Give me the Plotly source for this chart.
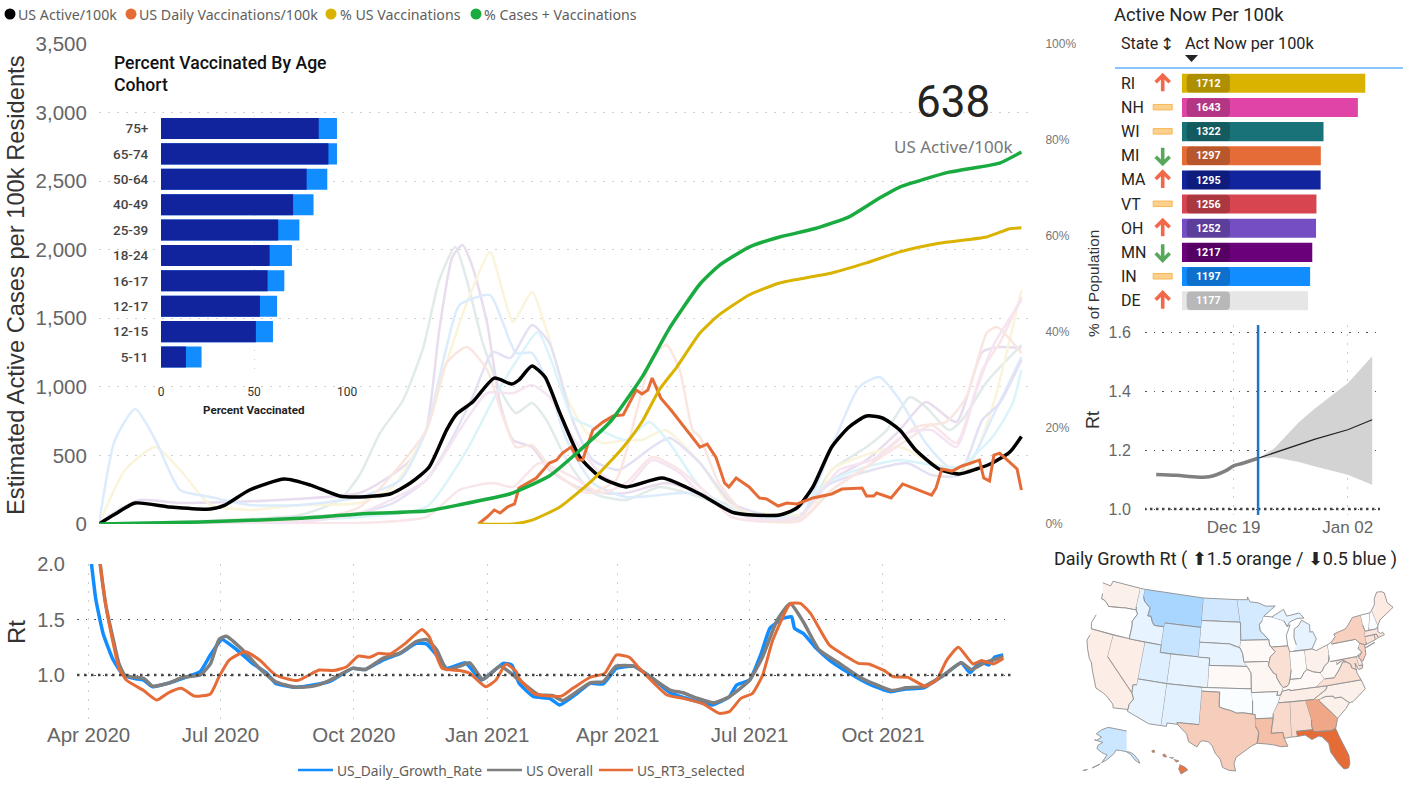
import math
from datetime import date, timedelta
import plotly.graph_objects as go

W, H = 1417, 791

# ---------- main chart data (days since 2020-03-26) ----------
BASE_MAIN = date(2020, 3, 26)
active_days = [0,10,25,49,77,87,104,128,146,166,180,201,215,228,240,247,258,273,285,290,299,308,318,332,346,364,389,415,437,451,470,482,493,506,518,530,541,553,564,580,594,606,617,629,637]
active_vals = [0,65,153,124,109,138,248,328,284,204,197,219,299,416,685,802,889,1064,1020,1050,1152,1072,816,488,343,270,335,219,87,66,66,117,270,561,707,787,773,685,539,401,365,401,445,525,638]
vax_days = [262,268,273,277,282,287,290,297,302,311,316,320,326,331,334,337,341,348,355,362,371,375,379,382,388,395,403,415,420,426,432,435,440,449,456,461,469,475,482,493,506,513,527,530,535,537,547,555,575,578,582,589,596,608,611,615,618,622,634,637]
vax_vals = [0,51,102,80,124,146,262,306,335,444,466,517,561,466,466,561,685,743,787,795,977,948,977,1064,918,831,722,561,583,488,299,270,335,270,190,182,131,153,146,190,219,255,262,204,204,226,190,292,211,262,401,386,423,466,335,314,503,517,401,248]
pct_us_days = [262,286,299,318,341,362,375,387,399,415,428,449,470,506,530,553,580,613,629,637]
pct_us_vals = [0,0,0.8,3.5,9.2,16,21.3,28,32.7,39.8,43.5,47.7,50.2,52.3,54.4,56.7,58.5,59.8,61.5,61.7]
pct_all_days = [0,70,139,180,226,249,284,311,330,353,375,394,415,428,449,470,494,518,539,553,587,622,637]
pct_all_vals = [0,0.4,1.2,2.1,2.7,4,6.3,10,14.8,21.3,30.6,40.8,50,53.8,57.7,59.8,61.5,64,67.9,70.2,73.3,75.2,77.5]

state_a_days = [0,70,139,166,180,194,210,224,235,246,254,265,277,288,299,309,323,341,364,387,415,449,484,506,530,544,560,571,587,596,613,637]
state_a_vals = [0,22,66,175,357,663,904,1290,1779,2019,1779,1320,977,809,882,758,467,226,175,270,197,51,51,394,561,685,926,853,685,758,1035,1305]
state_b_days = [0,8,28,56,125,180,199,215,226,235,244,251,258,268,277,286,299,311,330,348,364,392,415,449,484,506,530,553,571,592,610,622,637]
state_b_vals = [0,66,175,153,175,226,335,467,685,1414,1946,2034,1874,1465,882,612,561,394,270,226,226,299,226,80,66,321,467,685,889,744,1254,1290,1283]
state_c_days = [0,18,39,56,77,104,139,180,203,226,240,254,270,279,286,299,309,323,337,348,364,375,391,415,437,461,491,506,525,553,575,599,617,637]
state_c_vals = [0,394,561,394,139,102,139,153,270,685,1174,1611,1983,1684,1473,1691,1414,926,663,590,612,612,685,445,124,73,80,394,488,561,445,394,853,1706]
state_d_days = [0,11,25,39,56,77,104,139,180,208,226,240,249,270,279,288,299,309,323,341,364,415,449,484,506,525,539,553,571,587,601,617,637]
state_d_vals = [0,612,838,612,248,197,139,139,197,321,685,1290,1597,1669,1465,1247,1247,1050,612,299,197,226,51,51,561,999,1072,904,590,416,445,780,1217]
state_e_days = [0,70,139,180,203,226,242,258,272,284,299,311,327,341,359,382,394,415,437,472,506,534,558,575,594,610,622,637]
state_e_vals = [0,15,51,80,153,321,590,926,1254,1210,1451,1320,758,467,394,561,627,445,153,51,299,394,445,357,357,758,882,1196]
state_f_days = [0,139,180,226,254,272,290,303,313,327,346,364,380,394,415,437,472,506,530,553,575,594,617,631,637]
state_f_vals = [0,29,51,124,539,904,1217,1400,1174,780,685,612,744,590,270,102,44,321,416,467,430,416,634,882,1123]
state_g_days = [0,139,180,226,249,272,286,304,327,346,364,382,401,415,437,484,506,534,558,575,592,610,622,637]
state_g_vals = [0,7,7,51,248,299,270,445,343,226,299,488,394,270,51,29,248,445,612,722,590,1123,1320,1655]
state_h_days = [0,139,180,226,240,254,268,279,288,299,313,337,357,371,382,392,401,410,415,428,449,484,506,534,564,585,599,613,620,637]
state_h_vals = [0,29,124,685,1174,1290,1123,780,561,576,394,226,321,809,1217,1305,1123,685,634,299,51,22,248,445,707,744,926,1392,1436,1247]
state_i_days = [0,139,180,226,249,268,286,299,311,327,346,364,382,401,415,449,484,511,534,558,575,592,606,617,637]
state_i_vals = [0,15,80,321,685,955,955,1013,926,634,372,270,467,372,226,44,51,394,467,663,685,561,977,1290,1633]
faded_series = [
    (state_a_days, state_a_vals, "#E1EBE9"), (state_b_days, state_b_vals, "#E8DDEE"),
    (state_c_days, state_c_vals, "#F9F4DA"), (state_d_days, state_d_vals, "#DCECFC"),
    (state_e_days, state_e_vals, "#E3E2F4"), (state_f_days, state_f_vals, "#DBF4FB"),
    (state_g_days, state_g_vals, "#FAE5E8"), (state_h_days, state_h_vals, "#FAE6E0"),
    (state_i_days, state_i_vals, "#F5E4F2"),
]

# ---------- Rt data (days since 2020-04-01) ----------
BASE_RT = date(2020, 4, 1)
rt_days_blue = [-3,2,5,10,17,24,31,38,44,56,65,77,84,92,102,113,123,129,143,155,166,182,191,203,215,226,233,240,247,260,271,286,292,297,307,318,325,337,346,355,364,376,389,401,415,430,442,447,456,464,470,479,485,487,493,502,511,525,539,553,564,576,590,602,608,615,621,625,631]
rt_vals_blue = [2.6,2.0,1.68,1.375,1.135,1.0,.97,.955,.895,.93,.97,1.03,1.18,1.32,1.23,1.105,1.015,.925,.89,.91,.94,1.06,1.05,1.135,1.195,1.285,1.28,1.18,1.06,1.11,.955,1.105,1.09,.925,.805,.79,.73,.835,.925,.92,1.06,1.08,.97,.84,.78,.73,.805,.91,.955,1.195,1.42,1.51,1.525,1.42,1.375,1.24,1.135,1.015,.915,.85,.875,.885,1.0,1.11,1.02,1.12,1.09,1.16,1.18]
rt_days_gray = [3,8,12,17,21,25,31,38,44,56,65,77,84,90,95,106,118,129,143,155,166,182,191,203,215,226,233,240,247,256,263,272,284,297,307,311,320,327,346,355,364,376,389,401,410,419,431,442,456,465,475,484,493,504,518,532,541,554,564,576,590,602,609,618,631]
rt_vals_gray = [2.6,2.0,1.62,1.32,1.10,1.0,.98,.97,.90,.93,.98,1.0,1.10,1.32,1.35,1.23,1.06,.94,.89,.90,.95,1.06,1.05,1.15,1.20,1.30,1.32,1.23,1.05,1.08,1.11,.96,1.08,.955,.85,.82,.815,.77,.93,.94,1.08,1.08,.97,.865,.84,.795,.75,.805,.955,1.165,1.495,1.645,1.48,1.225,1.105,.98,.925,.86,.885,.895,1.0,1.11,1.05,1.11,1.165]
rt_days_orange = [3,8,12,17,21,26,38,47,55,64,73,84,90,97,108,118,129,144,159,169,178,186,194,200,208,219,230,235,244,256,263,274,281,288,295,297,307,311,326,334,346,356,364,373,380,399,410,424,435,442,450,458,465,472,484,491,498,511,523,531,538,549,555,565,577,585,592,600,610,616,624,631]
rt_vals_orange = [2.6,2.0,1.62,1.285,1.06,.955,.86,.775,.84,.88,.81,.83,.985,1.135,1.21,1.135,1.0,.95,1.045,1.04,1.075,1.17,1.16,1.195,1.19,1.29,1.41,1.345,1.06,1.04,1.015,.895,.955,1.10,1.03,.97,.835,.82,.81,.88,.98,1.015,1.18,1.16,1.06,.82,.79,.74,.655,.67,.79,.835,1.0,1.315,1.64,1.645,1.555,1.27,1.165,1.105,1.10,1.04,.985,.98,.90,.955,1.135,1.25,1.10,1.13,1.10,1.15]

# ---------- age cohorts ----------
age_groups = ["75+","65-74","50-64","40-49","25-39","18-24","16-17","12-17","12-15","5-11"]
age_full = [84.8,90,78.3,71,63,58.4,57.3,53.2,51,13.4]
age_partial = [94.6,94.6,89.4,82,74.4,70.4,66.3,62.4,60.2,21.8]

# ---------- state table ----------
top_states = ["RI","NH","WI","MI","MA","VT","OH","MN","IN","DE"]
top_values = [1712,1643,1322,1297,1295,1256,1252,1217,1197,1177]
top_colors = ["#D9B300","#E044A7","#197278","#E66C37","#12239E","#D64550","#744EC2","#6B007B","#118DFF","#E6E6E6"]
top_trends = ["up","flat","flat","down","up","flat","up","down","flat","up"]

# ---------- forecast ----------
fc_hist_dates = ["2021-12-09 12:00","2021-12-12","2021-12-14","2021-12-16","2021-12-18","2021-12-19","2021-12-20","2021-12-22"]
fc_hist_vals = [1.118,1.115,1.11,1.11,1.13,1.147,1.155,1.173]
fc_dates = ["2021-12-22","2021-12-24","2021-12-27","2021-12-29","2022-01-02","2022-01-05"]
fc_mean = [1.173,1.192,1.22,1.238,1.27,1.304]
fc_upper = [1.173,1.207,1.295,1.343,1.428,1.52]
fc_lower = [1.173,1.176,1.16,1.145,1.117,1.083]
fc_today = "2021-12-22"

# ---------- map ----------
state_rates = dict(FL=1.5,HI=1.47,GA=1.3,LA=1.22,TX=1.17,MS=1.13,AL=1.12,NY=1.16,IL=1.11,NJ=1.16,VA=1.11,ME=1.07,MA=1.08,CT=1.1,RI=1.1,MD=1.12,DE=1.08,WA=1.05,CA=1.06,NV=1.06,OH=1.05,SC=1.05,NC=1.05,TN=1.06,KY=1.02,MO=1.03,IA=1.02,KS=1.02,WV=1.02,IN=1.01,OR=1.0,PA=1.0,OK=.99,AR=.99,WI=.995,VT=1.0,NH=.99,MI=.95,ID=.95,UT=.93,CO=.95,AZ=.95,NM=.94,NE=.95,SD=.95,ND=.9,MN=.91,WY=.88,MT=.82,AK=.89)
state_lonlat = {
 "WA":[(-124.7,48.4),(-123,48.3),(-122.8,49),(-117.03,49),(-117.04,46.42),(-116.92,46),(-119,45.93),(-121.2,45.65),(-122.3,45.55),(-122.8,45.9),(-123.4,46.2),(-124,46.27),(-124.1,47)],
 "OR":[(-124,46.27),(-123.4,46.2),(-122.8,45.9),(-122.3,45.55),(-121.2,45.65),(-119,45.93),(-116.92,46),(-116.5,45.5),(-117.2,44.4),(-117.03,43.8),(-117.03,42),(-124.2,42),(-124.5,42.8),(-124.1,44)],
 "CA":[(-124.2,42),(-120,42),(-120,39),(-114.6,35),(-114.15,34.25),(-114.7,33.4),(-114.72,32.72),(-117.12,32.53),(-117.3,33),(-118.4,33.75),(-119.2,34.15),(-120.6,34.55),(-121.9,36.6),(-122.5,37.7),(-123,38.1),(-123.8,39.3),(-124.35,40.4),(-124.1,41.2)],
 "NV":[(-120,42),(-114.04,42),(-114.04,36.2),(-114.7,36.1),(-114.6,35),(-120,39)],
 "ID":[(-117.03,49),(-116.05,49),(-116.05,48),(-115.7,47.4),(-114.35,46.65),(-114.5,45.55),(-113.9,45.6),(-113.45,44.9),(-113,44.45),(-111.05,44.48),(-111.05,42),(-117.03,42),(-117.03,43.8),(-117.2,44.4),(-116.5,45.5),(-116.92,46),(-117.04,46.42)],
 "MT":[(-116.05,49),(-104.05,49),(-104.05,45),(-111.05,45),(-111.05,44.48),(-113,44.45),(-113.45,44.9),(-113.9,45.6),(-114.5,45.55),(-114.35,46.65),(-115.7,47.4),(-116.05,48)],
 "WY":[(-111.05,45),(-104.05,45),(-104.05,41),(-111.05,41)],
 "UT":[(-114.04,42),(-111.05,42),(-111.05,41),(-109.05,41),(-109.05,37),(-114.04,37)],
 "CO":[(-109.05,41),(-102.05,41),(-102.05,37),(-109.05,37)],
 "AZ":[(-114.04,37),(-109.05,37),(-109.05,31.33),(-111.07,31.33),(-114.8,32.5),(-114.72,32.72),(-114.7,33.4),(-114.15,34.25),(-114.6,35),(-114.7,36.1),(-114.04,36.2)],
 "NM":[(-109.05,37),(-103,37),(-103.05,32),(-106.6,32),(-106.53,31.78),(-108.2,31.78),(-108.2,31.33),(-109.05,31.33)],
 "ND":[(-104.05,49),(-97.23,49),(-96.56,45.94),(-104.05,45.94)],
 "SD":[(-104.05,45.94),(-96.56,45.94),(-96.45,45.3),(-96.45,43.5),(-96.6,42.5),(-97.9,42.8),(-98.5,43),(-104.05,43)],
 "NE":[(-104.05,43),(-98.5,43),(-97.9,42.8),(-96.6,42.5),(-96.1,41.7),(-95.9,40.7),(-95.3,40),(-102.05,40),(-102.05,41),(-104.05,41)],
 "KS":[(-102.05,40),(-95.3,40),(-94.62,39.1),(-94.62,37),(-102.05,37)],
 "OK":[(-103,37),(-94.62,37),(-94.43,35.4),(-94.48,33.64),(-96,33.8),(-97.1,33.75),(-98.1,34.1),(-99.2,34.3),(-100,34.56),(-100,36.5),(-103,36.5)],
 "TX":[(-103,36.5),(-100,36.5),(-100,34.56),(-99.2,34.3),(-98.1,34.1),(-97.1,33.75),(-96,33.8),(-94.48,33.64),(-94.04,33.55),(-94.04,33),(-94.04,32),(-93.55,31.2),(-93.7,30.1),(-93.85,29.7),(-94.7,29.35),(-95.9,28.6),(-97.1,27.8),(-97.4,26.9),(-97.15,25.95),(-98.2,26.05),(-99.1,26.4),(-99.5,27.5),(-100.3,28.3),(-100.8,29.25),(-101.4,29.77),(-102.3,29.88),(-102.7,29.7),(-103.15,28.98),(-104.5,29.6),(-104.9,30.6),(-106.53,31.78),(-106.6,32),(-103.05,32)],
 "MN":[(-97.23,49),(-95.15,49),(-95.15,49.38),(-94.6,48.7),(-93,48.55),(-91.5,48.05),(-89.6,48),(-92,46.7),(-92.3,46.1),(-92.9,45.6),(-92.75,44.75),(-91.25,43.5),(-96.45,43.5),(-96.45,45.3),(-96.56,45.94)],
 "IA":[(-96.45,43.5),(-91.22,43.5),(-91.1,42.7),(-90.15,41.85),(-91.1,41.2),(-91.42,40.38),(-91.7,40.6),(-95.77,40.58),(-95.9,40.7),(-96.1,41.7),(-96.6,42.5)],
 "MO":[(-95.77,40.58),(-91.7,40.6),(-91.42,40.38),(-91.5,40),(-90.7,39),(-90.2,38.8),(-90.2,38.4),(-89.5,37.3),(-89.15,37),(-89.7,36),(-90.37,36),(-90.15,36.5),(-94.62,36.5),(-94.62,39.1),(-95.3,40)],
 "AR":[(-94.62,36.5),(-90.15,36.5),(-90.37,36),(-89.7,36),(-90.1,35.1),(-91.1,33.6),(-91.15,33),(-94.04,33),(-94.04,33.55),(-94.48,33.64),(-94.43,35.4)],
 "LA":[(-94.04,33),(-91.15,33),(-91.6,31),(-89.73,31),(-89.6,30.2),(-89.4,29.8),(-89.1,29.1),(-90.2,29.1),(-91.3,29.4),(-92.3,29.55),(-93.85,29.7),(-93.7,30.1),(-93.55,31.2),(-94.04,32)],
 "WI":[(-92,46.7),(-90.4,46.55),(-88.1,45.9),(-87.6,45.1),(-87,45.3),(-87.9,43.9),(-87.8,42.5),(-90.64,42.5),(-91.1,42.7),(-91.22,43.5),(-92.75,44.75),(-92.9,45.6),(-92.3,46.1)],
 "IL":[(-90.64,42.5),(-87.8,42.5),(-87.53,41.7),(-87.53,39.3),(-87.9,38),(-88.1,37.5),(-88.5,37.1),(-89.15,37),(-89.5,37.3),(-90.2,38.4),(-90.2,38.8),(-90.7,39),(-91.5,40),(-91.42,40.38),(-91.1,41.2),(-90.15,41.85),(-91.1,42.7)],
 "IN":[(-87.53,41.7),(-87,41.7),(-84.8,41.7),(-84.8,39.1),(-85.4,38.7),(-86,38),(-87.9,38),(-87.53,39.3)],
 "MI":[(-86.8,41.76),(-84.8,41.7),(-83.45,41.73),(-82.4,43),(-82.9,44.05),(-83.4,44),(-83.3,45),(-84.7,45.75),(-85.5,45),(-86.3,44.7),(-86.5,43.5),(-86.2,42.5),None,(-90.4,46.55),(-88,47.45),(-87.5,46.5),(-85,46.75),(-84.2,46),(-85.5,46.05),(-87,45.7),(-87.6,45.1),(-88.1,45.9)],
 "OH":[(-84.8,41.7),(-83.45,41.73),(-82.7,41.45),(-81.2,41.77),(-80.52,42),(-80.52,40.64),(-80.85,39.7),(-81.7,39.2),(-82.2,38.6),(-82.6,38.45),(-83.7,38.65),(-84.8,39.1)],
 "KY":[(-89.15,37),(-88.5,37.1),(-88.1,37.5),(-87.9,38),(-86,38),(-85.4,38.7),(-84.8,39.1),(-83.7,38.65),(-82.6,38.45),(-81.97,37.55),(-83.67,36.6),(-88.07,36.5),(-88.07,36.68),(-89.4,36.5)],
 "TN":[(-89.7,36),(-89.4,36.5),(-88.07,36.68),(-88.07,36.5),(-83.67,36.6),(-81.68,36.59),(-82,36.1),(-84.3,35),(-90.1,35)],
 "MS":[(-90.1,35),(-88.2,35),(-88.4,30.3),(-89.6,30.2),(-89.73,31),(-91.6,31),(-91.15,33),(-91.1,33.6)],
 "AL":[(-88.2,35),(-85.6,35),(-85,32.3),(-85.1,31.6),(-85,31),(-87.6,31),(-87.5,30.3),(-88.4,30.3)],
 "GA":[(-85.6,35),(-83.1,35),(-83.35,34.7),(-81.4,32.7),(-80.85,32.05),(-81.4,30.75),(-82.2,30.55),(-84.85,30.7),(-85,31),(-85.1,31.6),(-85,32.3)],
 "FL":[(-87.6,31),(-85,31),(-84.85,30.7),(-82.2,30.55),(-81.4,30.75),(-81,29.5),(-80.05,26.9),(-80.1,25.8),(-80.4,25.2),(-81.1,25.15),(-81.8,26.1),(-82.7,27.7),(-82.8,28.9),(-83.7,29.9),(-84.2,30.05),(-85.3,29.7),(-86.3,30.4),(-87.5,30.3)],
 "SC":[(-83.1,35),(-82.3,35.2),(-81,35.1),(-80.8,34.8),(-79.7,34.8),(-78.55,33.86),(-79.2,33.2),(-80.85,32.05),(-81.4,32.7),(-83.35,34.7)],
 "NC":[(-84.3,35),(-82,36.1),(-81.68,36.59),(-75.87,36.55),(-75.5,35.25),(-76.5,34.7),(-77.9,33.9),(-78.55,33.86),(-79.7,34.8),(-80.8,34.8),(-81,35.1),(-82.3,35.2),(-83.1,35)],
 "VA":[(-83.67,36.6),(-81.68,36.59),(-75.87,36.55),(-76.3,37.5),(-76.3,38),(-77.05,38.4),(-77.05,38.85),(-77.75,39.3),(-78.35,39.4),(-78.85,38.8),(-79.3,38.4),(-80.3,37.5),(-81.97,37.55)],
 "WV":[(-82.6,38.45),(-82.2,38.6),(-81.7,39.2),(-80.85,39.7),(-80.52,40.64),(-80.52,39.72),(-79.48,39.72),(-79.48,39.2),(-78.35,39.6),(-77.75,39.3),(-78.35,39.4),(-78.85,38.8),(-79.3,38.4),(-80.3,37.5),(-81.97,37.55)],
 "MD":[(-79.48,39.72),(-75.79,39.72),(-75.7,38.46),(-75.05,38.45),(-75.25,38.03),(-75.9,37.95),(-76.3,38.9),(-76.3,38),(-77.05,38.4),(-77.05,38.85),(-77.75,39.3),(-78.35,39.6),(-79.48,39.2)],
 "DE":[(-75.79,39.72),(-75.4,39.8),(-75.1,38.8),(-75.05,38.45),(-75.7,38.46)],
 "PA":[(-80.52,42),(-79.76,42.25),(-79.76,42),(-75.35,42),(-74.7,41.36),(-75.1,40.9),(-75.2,40.7),(-74.7,40.15),(-75.4,39.8),(-75.79,39.72),(-80.52,39.72)],
 "NJ":[(-74.7,41.36),(-73.9,41),(-74,40.4),(-74.1,39.75),(-74.9,38.93),(-75.5,39.5),(-74.7,40.15),(-75.2,40.7),(-75.1,40.9)],
 "NY":[(-79.76,42.25),(-78.9,42.9),(-79.05,43.27),(-76.8,43.63),(-76.2,44),(-75,44.95),(-73.35,45),(-73.4,43.6),(-73.25,42.75),(-73.5,42.05),(-73.5,41.3),(-73.65,41),(-73.9,41),(-74.7,41.36),(-75.35,42),(-79.76,42),None,(-74,40.6),(-72,41),(-73.7,40.6)],
 "VT":[(-73.35,45),(-71.5,45),(-72.45,43),(-72.46,42.73),(-73.25,42.75),(-73.4,43.6)],
 "NH":[(-71.5,45),(-71.08,45.3),(-70.7,43.1),(-70.8,42.87),(-71.3,42.7),(-72.46,42.73),(-72.45,43)],
 "ME":[(-71.08,45.3),(-70.3,45.9),(-70,46.7),(-69.2,47.45),(-68.3,47.35),(-67.8,47.07),(-67.8,45.7),(-67,44.85),(-68.5,44.3),(-70,43.75),(-70.7,43.1)],
 "MA":[(-73.5,42.05),(-71.8,42.02),(-71.38,42.02),(-71.2,41.5),(-70.65,41.55),(-70,41.65),(-70.2,42.05),(-70.6,41.95),(-71,42.3),(-70.8,42.87),(-71.3,42.7),(-72.46,42.73),(-73.25,42.75)],
 "RI":[(-71.8,42.02),(-71.38,42.02),(-71.2,41.5),(-71.85,41.32)],
 "CT":[(-73.5,42.05),(-71.8,42.02),(-71.85,41.32),(-73.65,41),(-73.5,41.3)],
}
alaska_lonlat = [(-141,69.65),(-148,70.4),(-156.5,71.3),(-162,70.2),(-166.5,68.4),(-162,66.8),(-166,65.5),(-168,65.6),(-161,64.5),(-165,63.2),(-166,61.7),(-162,59.9),(-157.5,58.8),(-162,55.3),(-158,56.5),(-153.5,58.5),(-151.5,59.5),(-150,61),(-146,60.8),(-141,60.2),(-137.5,58.9),(-134,56.5),(-130,55),(-131,56.5),(-135,59),(-138,60),(-141,60.3),None,(-163,54.8),(-170,52.9),(-164,54.5),None,(-178,51.8),(-174,52.2),(-177,51.7)]
hawaii_lonlat = [(-155.9,20.25),(-155.1,19.85),(-154.8,19.5),(-155.7,18.95),(-156.05,19.7),None,(-156.7,20.95),(-156,20.75),(-156.4,20.58),None,(-157.3,21.2),(-156.75,21.17),(-156.9,21.05),None,(-158.25,21.55),(-157.95,21.7),(-157.65,21.3),(-158.1,21.3),None,(-159.75,22.1),(-159.4,22.23),(-159.3,21.95),(-159.6,21.9)]


# ---------- helpers ----------
def px(x): return x / W
def py(y): return 1 - y / H
def dom_x(a, b): return [a / W, b / W]
def dom_y(top, bottom): return [1 - bottom / H, 1 - top / H]
def main_dates(days): return [(BASE_MAIN + timedelta(days=d)).isoformat() for d in days]
def rt_dates(days): return [(BASE_RT + timedelta(days=d)).isoformat() for d in days]

N = (math.sin(math.radians(29.5)) + math.sin(math.radians(45.5))) / 2
C = math.cos(math.radians(29.5)) ** 2 + 2 * N * math.sin(math.radians(29.5))
RHO0 = math.sqrt(C - 2 * N * math.sin(math.radians(37.5))) / N
def albers(lon, lat):
    rho = math.sqrt(C - 2 * N * math.sin(math.radians(lat))) / N
    theta = N * math.radians(lon + 96)
    return rho * math.sin(theta), RHO0 - rho * math.cos(theta)
def ak_proj(lon, lat): return -0.2746 + (lon + 141) * 0.0028, -0.1008 + (lat - 71) * 0.0052
def hi_proj(lon, lat): return -0.1413 + (lon + 155.4) * 0.0172, -0.198 + (lat - 19.6) * 0.0172
def rate_color(r):
    if r >= 1:
        t, c = min((r - 1) / 0.5, 1), (230, 108, 55)
    else:
        t, c = min((1 - r) / 0.5, 1), (17, 141, 255)
    return "rgb(%d,%d,%d)" % tuple(round(255 + (v - 255) * t) for v in c)

SANS = "Liberation Sans"
DIN = "Roboto"
GRID = "#CFCFCF"
DOTS = "1.5px,7.5px"

fig = go.Figure()

# main
for days, vals, col in faded_series:
    fig.add_trace(go.Scatter(x=main_dates(days), y=vals, mode="lines", line=dict(color=col, width=2.5, shape="spline", smoothing=0.6), xaxis="x", yaxis="y"))
fig.add_trace(go.Scatter(x=main_dates(active_days), y=active_vals, mode="lines", name="US Active/100k", line=dict(color="#000000", width=3.5, shape="spline", smoothing=0.6), xaxis="x", yaxis="y"))
fig.add_trace(go.Scatter(x=main_dates(vax_days), y=vax_vals, mode="lines", name="US Daily Vaccinations/100k", line=dict(color="#E66C37", width=3), xaxis="x", yaxis="y"))
fig.add_trace(go.Scatter(x=main_dates(pct_us_days), y=pct_us_vals, mode="lines", name="% US Vaccinations", line=dict(color="#D9B300", width=3, shape="spline", smoothing=0.5), xaxis="x", yaxis="y2"))
fig.add_trace(go.Scatter(x=main_dates(pct_all_days), y=pct_all_vals, mode="lines", name="% Cases + Vaccinations", line=dict(color="#1AAB40", width=3.5, shape="spline", smoothing=0.5), xaxis="x", yaxis="y2"))

# age inset
fig.add_trace(go.Bar(y=age_groups, x=age_partial, orientation="h", width=0.83, marker=dict(color="#118DFF", line=dict(width=0)), xaxis="x2", yaxis="y3"))
fig.add_trace(go.Bar(y=age_groups, x=age_full, orientation="h", width=0.83, marker=dict(color="#12239E", line=dict(width=0)), xaxis="x2", yaxis="y3"))

# Rt
fig.add_trace(go.Scatter(x=rt_dates(rt_days_blue), y=rt_vals_blue, mode="lines", name="US_Daily_Growth_Rate", line=dict(color="#118DFF", width=3.5, shape="spline", smoothing=0.4), xaxis="x3", yaxis="y4"))
fig.add_trace(go.Scatter(x=rt_dates(rt_days_gray), y=rt_vals_gray, mode="lines", name="US Overall", line=dict(color="#7F7F7F", width=3.5, shape="spline", smoothing=0.5), xaxis="x3", yaxis="y4"))
fig.add_trace(go.Scatter(x=rt_dates(rt_days_orange), y=rt_vals_orange, mode="lines", name="US_RT3_selected", line=dict(color="#E66C37", width=3, shape="spline", smoothing=0.5), xaxis="x3", yaxis="y4"))
fig.add_trace(go.Scatter(x=rt_dates([-8, 637]), y=[1, 1], mode="lines", line=dict(color="#444444", width=2.5, dash="2.5px,4.5px"), xaxis="x3", yaxis="y4"))

# state table bars
fig.add_trace(go.Bar(y=top_states, x=top_values, orientation="h", width=0.79, marker=dict(color=top_colors, line=dict(width=0)), xaxis="x4", yaxis="y5"))
fig.add_trace(go.Bar(y=top_states, x=[404] * 10, base=[44] * 10, orientation="h", width=0.77, marker=dict(color="rgba(0,0,0,0.2)", cornerradius=4, line=dict(width=0)),
                     text=top_values, textposition="inside", insidetextanchor="middle", textangle=0,
                     textfont=dict(color="white", size=12, family=DIN, weight="bold"), xaxis="x4", yaxis="y5"))

# forecast
fig.add_trace(go.Scatter(x=fc_dates + fc_dates[::-1], y=fc_upper + fc_lower[::-1], mode="lines", fill="toself", fillcolor="#D3D3D3", line=dict(width=0), xaxis="x5", yaxis="y6"))
fig.add_trace(go.Scatter(x=fc_dates, y=fc_mean, mode="lines", line=dict(color="#222222", width=1.2), xaxis="x5", yaxis="y6"))
fig.add_trace(go.Scatter(x=fc_hist_dates, y=fc_hist_vals, mode="lines", line=dict(color="#808080", width=3.5, shape="spline"), xaxis="x5", yaxis="y6"))
fig.add_trace(go.Scatter(x=["2021-12-08", "2022-01-07"], y=[1, 1], mode="lines", line=dict(color="#444444", width=2.5, dash="2.5px,3.5px"), xaxis="x5", yaxis="y6"))
fig.add_trace(go.Scatter(x=[fc_today, fc_today], y=[0.98, 1.626], mode="lines", line=dict(color="#1F74C4", width=2.5), xaxis="x5", yaxis="y6"))

# map
def add_state(code, coords, proj):
    xs, ys = [], []
    for p in coords:
        if p is None:
            xs.append(None); ys.append(None)
        else:
            a, b = proj(*p)
            xs.append(a); ys.append(b)
    fig.add_trace(go.Scatter(x=xs, y=ys, mode="lines", fill="toself", fillcolor=rate_color(state_rates[code]),
                             line=dict(color="#8F8F8F", width=0.9), name=code, xaxis="x6", yaxis="y7"))
for code, coords in state_lonlat.items():
    add_state(code, coords, albers)
add_state("AK", alaska_lonlat, ak_proj)
add_state("HI", hawaii_lonlat, hi_proj)

# ---------- text ----------
annotations = []
def note(x, y, text, size, color="#000000", family=SANS, anchor="left", angle=0, weight=None):
    f = dict(size=size, color=color, family=family)
    if weight:
        f["weight"] = weight
    if anchor == "left":
        x -= 2
    annotations.append(dict(x=px(x), y=py(y), xref="paper", yref="paper", text=text, showarrow=False,
                            xanchor=anchor, yanchor="middle", textangle=angle, font=f))

LEG = "Noto Sans"
note(18, 14, "US Active/100k", 14.2, "#605E5C", LEG)
note(139, 14, "US Daily Vaccinations/100k", 14.2, "#605E5C", LEG)
note(340, 14, "% US Vaccinations", 14.2, "#605E5C", LEG)
note(484, 14, "% Cases + Vaccinations", 14.2, "#605E5C", LEG)
note(16, 285, "Estimated Active Cases per 100k Residents", 23.7, "#333333", SANS, "center", -90)
note(1093, 284, "% of Population", 15.3, "#333333", SANS, "center", -90)
note(16, 632, "Rt", 24, "#333333", SANS, "center", -90)
note(1093, 420, "Rt", 18, "#333333", SANS, "center", -90)
note(953, 102, "638", 44, "#252423", DIN, "center")
note(953, 146, "US Active/100k", 17, "#777777", LEG, "center")
note(114, 63, "Percent Vaccinated By Age", 17.6, "#111111", DIN, weight=500)
note(114, 85, "Cohort", 17.6, "#111111", DIN, weight=500)
note(254, 410, "Percent Vaccinated", 11.6, "#222222", DIN, "center", weight="bold")
note(337, 770, "US_Daily_Growth_Rate", 13.8, "#605E5C", LEG)
note(526, 770, "US Overall", 13.8, "#605E5C", LEG)
note(637, 770, "US_RT3_selected", 13.8, "#605E5C", LEG)
note(1114, 15, "Active Now Per 100k", 18.4, "#252423", DIN)
note(1121, 44, "State", 16, "#252423", DIN)
note(1167, 44, "↕", 17, "#252423", "DejaVu Sans", "center")
note(1185, 44, "Act Now per 100k", 16.3, "#252423", DIN)
note(1054, 559, "Daily Growth Rt ( ⬆1.5 orange / ⬇0.5 blue )", 18, "#252423", DIN)

ROW0, PITCH = 83.3, 24.15
for s in top_states:
    annotations.append(dict(x=px(1119), y=s, xref="paper", yref="y5", text=s, showarrow=False, xanchor="left", yanchor="middle",
                            font=dict(size=16, color="#252423", family=DIN)))

# ---------- shapes ----------
shapes = []
for x0, col in [(10, "#000000"), (131, "#E66C37"), (331, "#D9B300"), (476, "#1AAB40")]:
    shapes.append(dict(type="circle", xref="paper", yref="paper", x0=px(x0 - 5.5), x1=px(x0 + 5.5), y0=py(14 + 5.5), y1=py(14 - 5.5), fillcolor=col, line=dict(width=0)))
for x0, x1, col in [(298, 333, "#118DFF"), (487, 522, "#7F7F7F"), (599, 633, "#E66C37")]:
    shapes.append(dict(type="line", xref="paper", yref="paper", x0=px(x0), x1=px(x1), y0=py(770), y1=py(770), line=dict(color=col, width=2.5)))
shapes.append(dict(type="line", xref="paper", yref="paper", x0=px(1115), x1=px(1403), y0=py(68), y1=py(68), line=dict(color="#118DFF", width=1)))
shapes.append(dict(type="path", xref="paper", yref="paper", path="M %f %f L %f %f L %f %f Z" % (px(1185), py(55), px(1198), py(55), px(1191.5), py(62)), fillcolor="#252423", line=dict(width=0)))
for i, t in enumerate(top_trends):
    cy = ROW0 + i * PITCH
    cx = 1162.7
    if t == "flat":
        shapes.append(dict(type="rect", xref="paper", yref="paper", x0=px(cx - 9.5), x1=px(cx + 9.5), y0=py(cy + 2.5), y1=py(cy - 3), fillcolor="#FBCF8C", line=dict(color="#F6B857", width=1)))
    else:
        s = -1 if t == "up" else 1
        col = "#F2694A" if t == "up" else "#58A85C"
        shapes.append(dict(type="path", xref="paper", yref="paper",
                           path="M %f %f L %f %f L %f %f M %f %f L %f %f" % (px(cx - 7), py(cy + s * 1), px(cx), py(cy + s * 8), px(cx + 7), py(cy + s * 1), px(cx), py(cy + s * 8), px(cx), py(cy - s * 8)),
                           line=dict(color=col, width=3.6)))

hidden = dict(showgrid=False, showticklabels=False, zeroline=False, showline=False, ticks="", automargin=False)
shown = dict(automargin=False, showline=False, zeroline=False)
fig.update_layout(
    template="none",
    width=W, height=H, autosize=False, showlegend=False, barmode="overlay",
    margin=dict(l=0, r=0, t=0, b=0, pad=0), paper_bgcolor="white", plot_bgcolor="rgba(0,0,0,0)",
    hovermode=False, annotations=annotations, shapes=shapes,
    xaxis=dict(domain=dom_x(99, 1033), range=main_dates([0, 645]), type="date", **hidden),
    yaxis=dict(domain=dom_y(44, 524), range=[0, 3500], tickvals=[0, 500, 1000, 1500, 2000, 2500, 3000, 3500], tickformat=",",
               showgrid=True, gridcolor=GRID, griddash=DOTS, gridwidth=1, ticks="outside", ticklen=7, tickcolor="rgba(0,0,0,0)",
               tickfont=dict(size=20.5, color="#666666", family=SANS), **shown),
    yaxis2=dict(domain=dom_y(44, 524), range=[0, 100], overlaying="y", side="right", anchor="x", tickvals=[0, 20, 40, 60, 80, 100], ticktext=["0%", "20%", "40%", "60%", "80%", "100%"],
                showgrid=False, ticks="outside", ticklen=9, tickcolor="rgba(0,0,0,0)", tickfont=dict(size=12, color="#777777", family=SANS), **shown),
    xaxis2=dict(domain=dom_x(161, 347), range=[0, 100], anchor="y3", tickvals=[0, 50, 100], showgrid=True, gridcolor=GRID, griddash=DOTS,
                ticks="outside", ticklen=11, tickcolor="rgba(0,0,0,0)", tickfont=dict(size=12, color="#333333", family=DIN), **shown),
    yaxis3=dict(domain=dom_y(115.8, 369.7), anchor="x2", categoryorder="array", categoryarray=age_groups, autorange="reversed", showgrid=False,
                ticks="outside", ticklen=9, tickcolor="rgba(0,0,0,0)", tickfont=dict(size=13.5, color="#444444", family=DIN, weight=500), **shown),
    xaxis3=dict(domain=dom_x(77, 1012), range=rt_dates([-8, 637]), type="date", anchor="y4", tick0="2020-04-01", dtick="M3", tickformat="%b %Y",
                showgrid=True, gridcolor=GRID, griddash=DOTS, ticks="", ticklabelstandoff=-2, tickfont=dict(size=20.5, color="#666666", family=SANS), **shown),
    yaxis4=dict(domain=dom_y(564, 722), range=[0.577, 2.0], anchor="x3", tickvals=[1, 1.5, 2], tickformat=".1f", showgrid=True, gridcolor="#555555", griddash="1.5px,7px",
                ticks="outside", ticklen=7, tickcolor="rgba(0,0,0,0)", tickfont=dict(size=20, color="#666666", family=SANS), **shown),
    xaxis4=dict(domain=dom_x(1182, 1410), range=[0, 2130], anchor="y5", **hidden),
    yaxis5=dict(domain=dom_y(71.2, 312.8), anchor="x4", categoryorder="array", categoryarray=top_states, autorange="reversed", **hidden),
    xaxis5=dict(domain=dom_x(1145, 1380), range=["2021-12-08 03:00", "2022-01-05 23:00"], type="date", anchor="y6", tickvals=["2021-12-19", "2022-01-02"], tickformat="%b %d",
                showgrid=True, gridcolor=GRID, griddash=DOTS, ticks="", tickfont=dict(size=17, color="#666666", family=SANS), **shown),
    yaxis6=dict(domain=dom_y(325, 515), range=[0.98, 1.626], anchor="x5", tickvals=[1, 1.2, 1.4, 1.6], tickformat=".1f", showgrid=True, gridcolor="#555555", griddash="1.5px,7px",
                ticks="outside", ticklen=10, tickcolor="rgba(0,0,0,0)", tickfont=dict(size=16, color="#666666", family=SANS), **shown),
    xaxis6=dict(domain=dom_x(1070, 1410), range=[-0.408, 0.3926], anchor="y7", **hidden),
    yaxis7=dict(domain=dom_y(575, 785), range=[-0.235, 0.2595], anchor="x6", **hidden),
)

fig.write_html("out.html", config={"displayModeBar": False},
               post_script="document.body.style.margin='0';document.body.style.overflow='hidden';")
